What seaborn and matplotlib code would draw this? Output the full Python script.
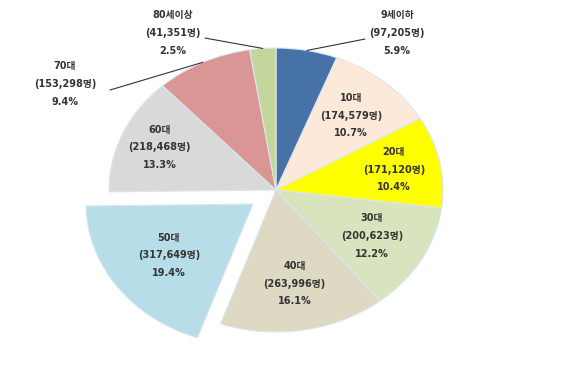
import numpy as np
import seaborn as sns
import matplotlib.pyplot as plt

# 연령대별 인원
categories = ['9세이하', '10대', '20대', '30대', '40대', '50대', '60대', '70대', '80세이상']
counts = [97205, 174579, 171120, 200623, 263996, 317649, 218468, 153298, 41351]
colors = ['#4672A8', '#FDE9D9', '#FFFF00', '#D7E4BD', '#DDD9C3',
          '#B7DDE8', '#D9D9D9', '#D99694', '#C3D69B']
explode = [0, 0, 0, 0, 0, 0.17, 0, 0, 0]

sns.set_style('white')
plt.rcParams['font.family'] = ['DejaVu Sans', 'Noto Sans CJK KR']

fig = plt.figure(figsize=(5.68, 3.71), dpi=100)
ax = fig.add_axes([0, 0, 1, 1])

wedges, _ = ax.pie(counts, colors=colors, startangle=90, counterclock=False,
                   explode=explode,
                   wedgeprops=dict(edgecolor='#dce6f0', linewidth=0.8))
ax.set_aspect('auto')
ax.set_xlim(-1.653, 1.749)
ax.set_ylim(-1.275, 1.338)
ax.axis('off')

total = sum(counts)
pcts = [c / total * 100 for c in counts]
labels = [f'{cat}\n({c:,}명)\n{p:.1f}%' for cat, c, p in zip(categories, counts, pcts)]

txt_kw = dict(fontsize=7, fontweight='bold', color='#333333',
              ha='center', va='center', linespacing=1.95)

# 바깥쪽 라벨 (텍스트 위치, 선 시작점)
outside = {
    0: ((0.725, 1.106), (0.533, 1.063)),
    8: ((-0.617, 1.106), (-0.425, 1.07)),
    7: ((-1.263, 0.746), (-0.994, 0.704)),
}
# 안쪽 라벨 반지름
label_r = [0, 0.69, 0.72, 0.66, 0.67, 0.62, 0.76, 0, 0]

for i, w in enumerate(wedges):
    mid = np.deg2rad((w.theta1 + w.theta2) / 2)
    cx, cy = w.center
    if i in outside:
        (tx, ty), (lx, ly) = outside[i]
        ax.text(tx, ty, labels[i], **txt_kw)
        ax.plot([lx, cx + np.cos(mid)], [ly, cy + np.sin(mid)],
                color='#333333', lw=0.8)
    else:
        r = label_r[i]
        ax.text(cx + r * np.cos(mid), cy + r * np.sin(mid), labels[i], **txt_kw)

fig.savefig('out.png', dpi=100)
